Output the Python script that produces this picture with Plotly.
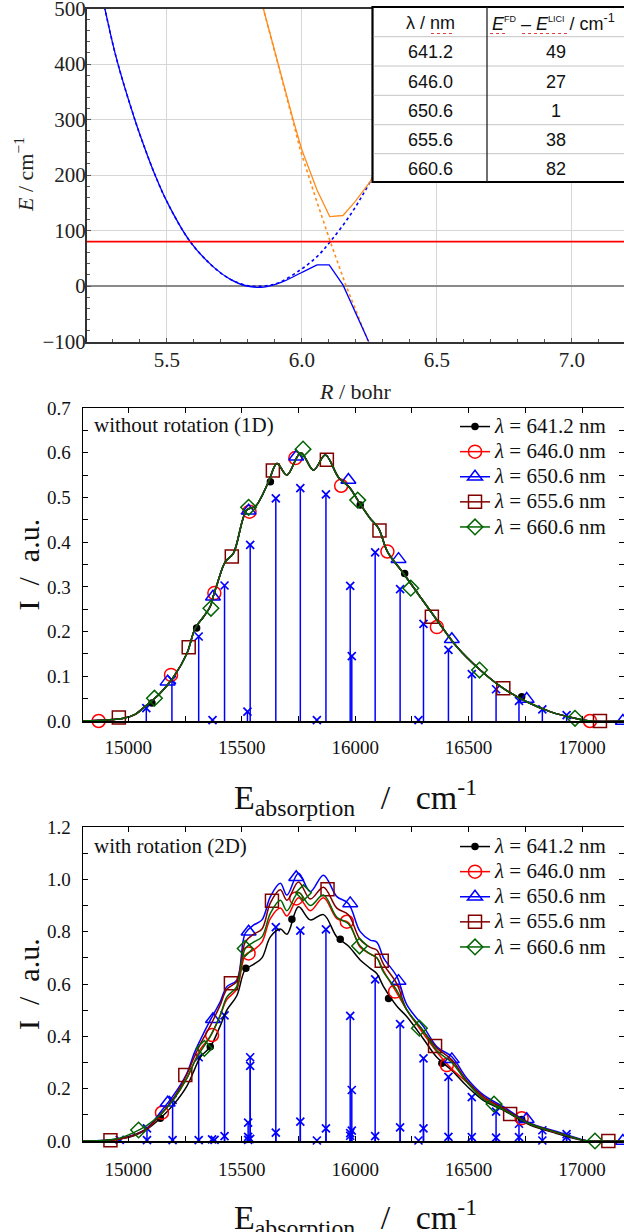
import plotly.graph_objects as go

W, H = 624, 1232
SERIF = "Liberation Serif"
SANS = "Liberation Sans"

# ================= top panel: potential curves =================
R_low_smooth = [5.250, 5.270, 5.313, 5.381, 5.419, 5.456, 5.500, 5.586, 5.673, 5.735, 5.796, 5.858, 5.920, 5.994, 6.056]
E_low_smooth = [545, 500, 410, 300, 247, 200, 152, 80, 34, 12, 0, -2, 6, 23, 38]
R_low_kink = [6.056, 6.101, 6.152, 6.247, 6.265]
E_low_kink = [38, 38, 2, -100, -130]

R_diab_low = [5.250, 5.270, 5.313, 5.381, 5.419, 5.456, 5.500, 5.586, 5.673, 5.735, 5.796, 5.858, 5.910, 5.994, 6.056, 6.105, 6.179, 6.253, 6.350, 6.450, 6.550]
E_diab_low = [545, 500, 410, 300, 247, 200, 152, 80, 34, 12, 1, 0, 5, 29, 53, 80, 128, 188, 280, 400, 540]

R_up = [5.830, 5.857, 5.968, 6.000, 6.056, 6.103, 6.152, 6.197, 6.253, 6.350, 6.450, 6.550]
E_up = [560, 500, 299, 245, 173, 125, 127, 152, 188, 280, 400, 540]

R_diab_up = [5.830, 5.857, 5.968, 5.994, 6.050, 6.105, 6.160, 6.247, 6.270]
E_diab_up = [555, 500, 295, 245, 160, 80, 5, -100, -130]

photon_level = 80

wavelengths = ["641.2", "646.0", "650.6", "655.6", "660.6"]
delta_E = [49, 27, 1, 38, 82]

# ================= middle panel: 1D spectrum =================
E_1d = [14800, 14900, 14979, 15030, 15082, 15140, 15200, 15258, 15295, 15330, 15361, 15375, 15390, 15427,
        15463, 15522, 15560, 15618, 15655, 15699, 15760, 15816, 15868, 15926, 15975, 16011, 16066, 16103,
        16142, 16213, 16286, 16360, 16448, 16551, 16653, 16756, 16859, 16969, 17035, 17185]
I_1d = [0, 0.002, 0.006, 0.015, 0.036, 0.062, 0.099, 0.151, 0.208, 0.232, 0.256, 0.280, 0.304, 0.356,
        0.375, 0.472, 0.480, 0.535, 0.576, 0.550, 0.600, 0.561, 0.595, 0.545, 0.522, 0.494, 0.453, 0.431,
        0.379, 0.330, 0.278, 0.226, 0.166, 0.114, 0.073, 0.043, 0.021, 0.006, 0, 0]

stick1_E = [15079, 15192, 15310, 15371, 15424, 15525, 15537, 15650, 15758, 15831, 15871, 15978, 15985,
            16088, 16198, 16279, 16301, 16411, 16514, 16621, 16722, 16825, 16932]
stick1_I = [0.029, 0.092, 0.189, 0.002, 0.303, 0.021, 0.394, 0.498, 0.521, 0.002, 0.507, 0.302, 0.145,
            0.377, 0.295, 0.002, 0.217, 0.159, 0.105, 0.071, 0.045, 0.026, 0.013]

mk1_E = {
    "641.2": [15104, 15301, 15626, 16022, 16218, 16734],
    "646.0": [14869, 15188, 15379, 15534, 15736, 15938, 16142, 16360, 17035],
    "650.6": [15173, 15373, 15530, 15740, 15970, 16191, 16426, 16756, 17180],
    "655.6": [14958, 15266, 15456, 15637, 15875, 16107, 16338, 16653, 17079],
    "660.6": [15115, 15364, 15530, 15770, 16011, 16245, 16548, 16969],
}
mk1_I = {
    "641.2": [0.040, 0.208, 0.535, 0.483, 0.330, 0.054],
    "646.0": [0.0, 0.103, 0.286, 0.468, 0.588, 0.526, 0.379, 0.210, 0.0],
    "650.6": [0.088, 0.278, 0.470, 0.591, 0.539, 0.362, 0.183, 0.049, 0.0],
    "655.6": [0.008, 0.165, 0.368, 0.560, 0.584, 0.426, 0.233, 0.073, 0.0],
    "660.6": [0.051, 0.252, 0.478, 0.608, 0.494, 0.297, 0.114, 0.006],
}

# ================= bottom panel: 2D spectrum =================
E_2d = [14800, 14900, 14965, 15030, 15082, 15141, 15200, 15258, 15290, 15317, 15361, 15405, 15434, 15478,
        15515, 15552, 15589, 15626, 15670, 15699, 15750, 15802, 15860, 15919, 15970, 16022, 16066, 16095,
        16125, 16184, 16228, 16301, 16360, 16426, 16492, 16565, 16653, 16771, 16888, 17006, 17040, 17185]
I_2d = {
    "641.2": [0, 0.002, 0.008, 0.022, 0.045, 0.087, 0.140, 0.210, 0.270, 0.320, 0.360, 0.440, 0.500, 0.555,
              0.655, 0.675, 0.700, 0.780, 0.810, 0.790, 0.895, 0.845, 0.865, 0.780, 0.745, 0.692, 0.660, 0.640,
              0.590, 0.515, 0.475, 0.390, 0.320, 0.270, 0.210, 0.155, 0.118, 0.061, 0.029, 0.002, 0, 0],
    "646.0": [0, 0.002, 0.009, 0.024, 0.047, 0.100, 0.160, 0.240, 0.300, 0.350, 0.400, 0.480, 0.540, 0.580,
              0.710, 0.730, 0.760, 0.850, 0.890, 0.860, 0.930, 0.880, 0.930, 0.850, 0.835, 0.740, 0.715, 0.700,
              0.650, 0.565, 0.500, 0.410, 0.340, 0.275, 0.225, 0.165, 0.125, 0.065, 0.032, 0.003, 0, 0],
    "650.6": [0, 0.003, 0.010, 0.025, 0.048, 0.110, 0.176, 0.259, 0.335, 0.386, 0.462, 0.532, 0.590, 0.615,
              0.794, 0.825, 0.845, 0.934, 0.985, 0.940, 1.023, 0.953, 1.016, 0.934, 0.908, 0.800, 0.768, 0.760,
              0.700, 0.628, 0.520, 0.437, 0.360, 0.322, 0.240, 0.176, 0.131, 0.068, 0.036, 0.004, 0, 0],
    "655.6": [0, 0.002, 0.009, 0.024, 0.047, 0.100, 0.165, 0.255, 0.320, 0.370, 0.440, 0.520, 0.580, 0.610,
              0.760, 0.790, 0.810, 0.910, 0.960, 0.920, 0.990, 0.925, 0.970, 0.890, 0.865, 0.770, 0.740, 0.730,
              0.675, 0.600, 0.500, 0.420, 0.355, 0.310, 0.230, 0.170, 0.125, 0.066, 0.034, 0.003, 0, 0],
    "660.6": [0, 0.003, 0.012, 0.035, 0.060, 0.100, 0.160, 0.240, 0.300, 0.340, 0.400, 0.480, 0.550, 0.590,
              0.735, 0.760, 0.780, 0.870, 0.920, 0.880, 0.950, 0.900, 0.940, 0.855, 0.830, 0.745, 0.715, 0.700,
              0.645, 0.575, 0.500, 0.420, 0.345, 0.300, 0.225, 0.160, 0.120, 0.065, 0.033, 0.003, 0, 0],
}

stick2_E = [14962, 15082, 15082, 15195, 15195, 15310, 15310, 15369, 15380, 15424, 15424, 15528, 15528, 15528,
            15537, 15537, 15537, 15650, 15650, 15758, 15758, 15831, 15871, 15871, 15978, 15978, 15978, 15985,
            15985, 16088, 16088, 16198, 16198, 16279, 16301, 16301, 16411, 16411, 16514, 16514, 16621, 16621,
            16722, 16722, 16825, 16825, 16932, 16932]
stick2_I = [0.004, 0.048, 0.003, 0.157, 0.003, 0.320, 0.003, 0.006, 0.004, 0.480, 0.019, 0.070, 0.016, 0.004,
            0.320, 0.287, 0.008, 0.817, 0.032, 0.804, 0.074, 0.002, 0.809, 0.048, 0.478, 0.030, 0.020, 0.195,
            0.040, 0.618, 0.019, 0.447, 0.052, 0.002, 0.316, 0.048, 0.245, 0.016, 0.168, 0.015, 0.112, 0.013,
            0.066, 0.015, 0.041, 0.002, 0.026, 0.016]

mk2_E = {
    "641.2": [15141, 15361, 15518, 15721, 15934, 16147, 16382, 16734],
    "646.0": [15148, 15369, 15530, 15740, 15963, 16176, 16404, 16734],
    "650.6": [15173, 15373, 15530, 15740, 15978, 16191, 16426, 16756, 17180],
    "655.6": [14921, 15251, 15452, 15633, 15878, 16117, 16352, 16683, 17116],
    "660.6": [15045, 15335, 15515, 15772, 16019, 16283, 16612, 17057],
}
mk2_I = {
    "641.2": [0.087, 0.360, 0.660, 0.847, 0.771, 0.545, 0.297, 0.082],
    "646.0": [0.108, 0.405, 0.717, 0.927, 0.838, 0.571, 0.290, 0.087],
    "650.6": [0.146, 0.465, 0.800, 1.008, 0.908, 0.611, 0.312, 0.083, 0.0],
    "655.6": [0.003, 0.252, 0.603, 0.918, 0.962, 0.689, 0.363, 0.103, 0.0],
    "660.6": [0.042, 0.354, 0.736, 0.949, 0.745, 0.431, 0.141, 0.0],
}

# ---------------- styles ----------------
series_style = {
    "641.2": dict(color="#000000", symbol="circle", size=6),
    "646.0": dict(color="#ff0000", symbol="circle-open", size=13),
    "650.6": dict(color="#0000ff", symbol="triangle-up-open", size=13),
    "655.6": dict(color="#800000", symbol="square-open", size=13),
    "660.6": dict(color="#006400", symbol="diamond-open", size=12),
}
BLUE = "#0000ff"
ORANGE = "#ff8c1a"


def px_x(px):
    return px / W


def px_y(py):
    return 1 - py / H


fig = go.Figure()

# ---- top panel traces ----
fig.add_trace(go.Scatter(x=R_diab_low, y=E_diab_low, mode="lines", line=dict(color=BLUE, width=1.6, dash="dot", shape="spline"),
                         xaxis="x", yaxis="y", showlegend=False))
fig.add_trace(go.Scatter(x=R_diab_up, y=E_diab_up, mode="lines", line=dict(color=ORANGE, width=1.6, dash="dot"),
                         xaxis="x", yaxis="y", showlegend=False))
fig.add_trace(go.Scatter(x=R_low_smooth, y=E_low_smooth, mode="lines", line=dict(color=BLUE, width=1.3, shape="spline"),
                         xaxis="x", yaxis="y", showlegend=False))
fig.add_trace(go.Scatter(x=R_low_kink, y=E_low_kink, mode="lines", line=dict(color=BLUE, width=1.3),
                         xaxis="x", yaxis="y", showlegend=False))
fig.add_trace(go.Scatter(x=R_up, y=E_up, mode="lines", line=dict(color=ORANGE, width=1.3),
                         xaxis="x", yaxis="y", showlegend=False))


def add_sticks(E, I, xa, ya):
    xs, ys = [], []
    for e, i in zip(E, I):
        xs += [e, e, None]
        ys += [0, i, None]
    fig.add_trace(go.Scatter(x=xs, y=ys, mode="lines", line=dict(color=BLUE, width=1.5),
                             xaxis=xa, yaxis=ya, showlegend=False, cliponaxis=False))
    fig.add_trace(go.Scatter(x=E, y=I, mode="markers",
                             marker=dict(symbol="x-thin", size=8, line=dict(color=BLUE, width=1.7)),
                             xaxis=xa, yaxis=ya, showlegend=False, cliponaxis=False))


add_sticks(stick1_E, stick1_I, "x2", "y2")
add_sticks(stick2_E, stick2_I, "x3", "y3")

for lam in wavelengths:
    st = series_style[lam]
    # 1D curves (all five nearly coincide)
    fig.add_trace(go.Scatter(x=E_1d, y=I_1d, mode="lines", line=dict(color=st["color"], width=1.5, shape="spline"),
                             xaxis="x2", yaxis="y2", showlegend=False))
    fig.add_trace(go.Scatter(x=mk1_E[lam], y=mk1_I[lam], mode="markers",
                             marker=dict(symbol=st["symbol"], size=st["size"], color=st["color"],
                                         line=dict(color=st["color"], width=1.5)),
                             xaxis="x2", yaxis="y2", showlegend=False, cliponaxis=False))
    # 2D curves
    fig.add_trace(go.Scatter(x=E_2d, y=I_2d[lam], mode="lines", line=dict(color=st["color"], width=1.5, shape="spline"),
                             xaxis="x3", yaxis="y3", showlegend=False))
    fig.add_trace(go.Scatter(x=mk2_E[lam], y=mk2_I[lam], mode="markers",
                             marker=dict(symbol=st["symbol"], size=st["size"], color=st["color"],
                                         line=dict(color=st["color"], width=1.5)),
                             xaxis="x3", yaxis="y3", showlegend=False, cliponaxis=False))

# legend entries
for lam in wavelengths:
    st = series_style[lam]
    for xa, ya, lg in (("x2", "y2", "legend"), ("x3", "y3", "legend2")):
        fig.add_trace(go.Scatter(x=[None], y=[None], mode="lines+markers",
                                 name=f"<span style='font-size:21px'><i>λ</i> = {lam} nm</span>",
                                 line=dict(color=st["color"], width=1.5),
                                 marker=dict(symbol=st["symbol"], size=st["size"], color=st["color"],
                                             line=dict(color=st["color"], width=1.5)),
                                 xaxis=xa, yaxis=ya, legend=lg, showlegend=True))

# ---------------- axes ----------------
tick_font_top = dict(family=SERIF, size=21, color="#222")
tick_font = dict(family=SERIF, size=19, color="#111")

common = dict(automargin=False, ticklabeloverflow="allow")
layout_axes = dict(
    xaxis=dict(domain=[px_x(87), 1], anchor="y", range=[5.204, 7.193], dtick=0.5, tick0=5.0, tickformat=".1f",
               showgrid=True, gridcolor="#d6d6d6", gridwidth=1, zeroline=False,
               showline=True, linecolor="#333", linewidth=2, mirror=True,
               ticks="inside", ticklen=4, tickcolor="#555", tickfont=tick_font_top, ticklabelstandoff=-2,
               minor=dict(dtick=0.1, ticks="inside", ticklen=3, tickcolor="#555", showgrid=False), **common),
    yaxis=dict(domain=[px_y(341.5), px_y(8.5)], anchor="x", range=[-100, 500], dtick=100, tickformat="d",
               showgrid=True, gridcolor="#d6d6d6", gridwidth=1,
               zeroline=True, zerolinecolor="#8a8a8a", zerolinewidth=1.2,
               showline=True, linecolor="#333", linewidth=2, mirror=False,
               ticks="inside", ticklen=4, tickcolor="#555", tickfont=tick_font_top, ticklabelstandoff=-5,
               minor=dict(dtick=20, ticks="inside", ticklen=3, tickcolor="#555", showgrid=False), **common),
    xaxis2=dict(domain=[px_x(83), 1], anchor="y2", range=[14800, 17185], dtick=500, tick0=15000, tickformat="d",
                showgrid=False, zeroline=False, showline=True, linecolor="black", linewidth=1.5, mirror="ticks",
                ticks="inside", ticklen=5, tickcolor="black", tickfont=tick_font, ticklabelstandoff=9,
                minor=dict(dtick=250, ticks="inside", ticklen=5, tickcolor="black"), **common),
    yaxis2=dict(domain=[px_y(721), px_y(408)], anchor="x2", range=[0, 0.7], dtick=0.1, tickformat=".1f",
                showgrid=False, zeroline=False, showline=True, linecolor="black", linewidth=1.5, mirror="ticks",
                ticks="inside", ticklen=5, tickcolor="black", tickfont=tick_font, ticklabelstandoff=7,
                minor=dict(dtick=0.05, ticks="inside", ticklen=5, tickcolor="black"), **common),
    xaxis3=dict(domain=[px_x(83), 1], anchor="y3", range=[14800, 17185], dtick=500, tick0=15000, tickformat="d",
                showgrid=False, zeroline=False, showline=True, linecolor="black", linewidth=1.5, mirror="ticks",
                ticks="inside", ticklen=5, tickcolor="black", tickfont=tick_font, ticklabelstandoff=11,
                minor=dict(dtick=250, ticks="inside", ticklen=5, tickcolor="black"), **common),
    yaxis3=dict(domain=[px_y(1141), px_y(827)], anchor="x3", range=[0, 1.2], dtick=0.2, tickformat=".1f",
                showgrid=False, zeroline=False, showline=True, linecolor="black", linewidth=1.5, mirror="ticks",
                ticks="inside", ticklen=5, tickcolor="black", tickfont=tick_font, ticklabelstandoff=7,
                minor=dict(dtick=0.1, ticks="inside", ticklen=5, tickcolor="black"), **common),
)

legend_common = dict(xanchor="left", yanchor="top", bgcolor="rgba(0,0,0,0)", borderwidth=0,
                     font=dict(family=SERIF, size=17, color="#111"), tracegroupgap=0, itemwidth=30)

# ---------------- shapes: photon line + table ----------------
shapes = [
    dict(type="line", xref="x domain", yref="y", x0=0, x1=1, y0=photon_level, y1=photon_level,
         line=dict(color="#ff0000", width=1.6), layer="above"),
]
row_edges = [7, 36.7, 66, 95.3, 124.7, 153.7, 182]
tbl_left, tbl_div = 372.5, 487
shapes.append(dict(type="rect", xref="paper", yref="paper", x0=px_x(tbl_left), x1=1.05,
                   y0=px_y(row_edges[-1]), y1=px_y(row_edges[0]),
                   fillcolor="white", line=dict(color="black", width=2.2), layer="above"))
for yb in row_edges[1:-1]:
    shapes.append(dict(type="line", xref="paper", yref="paper", x0=px_x(tbl_left + 1.2), x1=1.0,
                       y0=px_y(yb), y1=px_y(yb), line=dict(color="#c4c4c4", width=1), layer="above"))
shapes.append(dict(type="line", xref="paper", yref="paper", x0=px_x(tbl_div), x1=px_x(tbl_div),
                   y0=px_y(row_edges[-1]), y1=px_y(row_edges[0]), line=dict(color="#222", width=1.3), layer="above"))
# spell-check style underlines in the header
for x0, x1 in ((431, 455), (490, 507), (522, 570)):
    shapes.append(dict(type="line", xref="paper", yref="paper", x0=px_x(x0), x1=px_x(x1),
                       y0=px_y(33.5), y1=px_y(33.5), line=dict(color="#e04040", width=1.1, dash="dot"), layer="above"))

annotations = []
centers = [(row_edges[k] + row_edges[k + 1]) / 2 for k in range(len(row_edges) - 1)]
tfont = dict(family=SANS, size=18, color="#111")
annotations.append(dict(text="λ / nm", x=px_x(430), y=px_y(centers[0] + 1), xref="paper", yref="paper",
                        showarrow=False, font=tfont, xanchor="center", yanchor="middle"))
annotations.append(dict(text="<i>E</i><sup><span style='font-size:9px'>FD</span></sup> – <i>E</i><sup><span style='font-size:9px'>LICI</span></sup> / cm<sup>-1</sup>",
                        x=px_x(490), y=px_y(centers[0] + 1), xref="paper", yref="paper",
                        showarrow=False, font=tfont, xanchor="left", yanchor="middle"))
for k, (lam, de) in enumerate(zip(wavelengths, delta_E)):
    annotations.append(dict(text=lam, x=px_x(430), y=px_y(centers[k + 1] + 1), xref="paper", yref="paper",
                            showarrow=False, font=tfont, xanchor="center", yanchor="middle"))
    annotations.append(dict(text=str(de), x=px_x(556), y=px_y(centers[k + 1] + 1), xref="paper", yref="paper",
                            showarrow=False, font=tfont, xanchor="center", yanchor="middle"))

# axis titles
annotations += [
    dict(text="<i>E</i> / cm<sup>−1</sup>", x=px_x(24), y=px_y(175), xref="paper", yref="paper", textangle=-90,
         showarrow=False, font=dict(family=SERIF, size=22, color="#222"), xanchor="center", yanchor="middle"),
    dict(text="<i>R</i> / bohr", x=px_x(355), y=px_y(392), xref="paper", yref="paper",
         showarrow=False, font=dict(family=SERIF, size=22, color="#222"), xanchor="center", yanchor="middle"),
    dict(text="without rotation (1D)", x=px_x(92), y=px_y(425), xref="paper", yref="paper",
         showarrow=False, font=dict(family=SERIF, size=21, color="#111"), xanchor="left", yanchor="middle"),
    dict(text="with rotation (2D)", x=px_x(92), y=px_y(846), xref="paper", yref="paper",
         showarrow=False, font=dict(family=SERIF, size=21, color="#111"), xanchor="left", yanchor="middle"),
]
nb = "\u00a0"
xtitle = f"E<sub>absorption</sub>{nb*3}/{nb*3}cm<sup>-1</sup>"
ytitle = f"I{nb*2}/{nb*2}a.u."
for yc_plot, yc_title in ((564.5, 797), (984, 1217)):
    annotations.append(dict(text=ytitle, x=px_x(28), y=px_y(yc_plot), xref="paper", yref="paper", textangle=-90,
                            showarrow=False, font=dict(family=SERIF, size=30, color="#111"),
                            xanchor="center", yanchor="middle"))
    annotations.append(dict(text=xtitle, x=px_x(355), y=px_y(yc_title), xref="paper", yref="paper",
                            showarrow=False, font=dict(family=SERIF, size=34, color="#111"),
                            xanchor="center", yanchor="middle"))

fig.update_layout(
    width=W, height=H, margin=dict(l=0, r=0, t=0, b=0, autoexpand=False),
    font=dict(family=SERIF, color="#111"),
    paper_bgcolor="white", plot_bgcolor="white", hovermode=False,
    legend=dict(x=px_x(455), y=px_y(409), **legend_common),
    legend2=dict(x=px_x(455), y=px_y(829), **legend_common),
    shapes=shapes, annotations=annotations,
    **layout_axes,
)

fig.write_html("out.html",
               config={"displayModeBar": False, "staticPlot": True},
               post_script="document.body.style.margin='0';document.body.style.padding='0';"
                           "document.body.style.overflow='hidden';")
